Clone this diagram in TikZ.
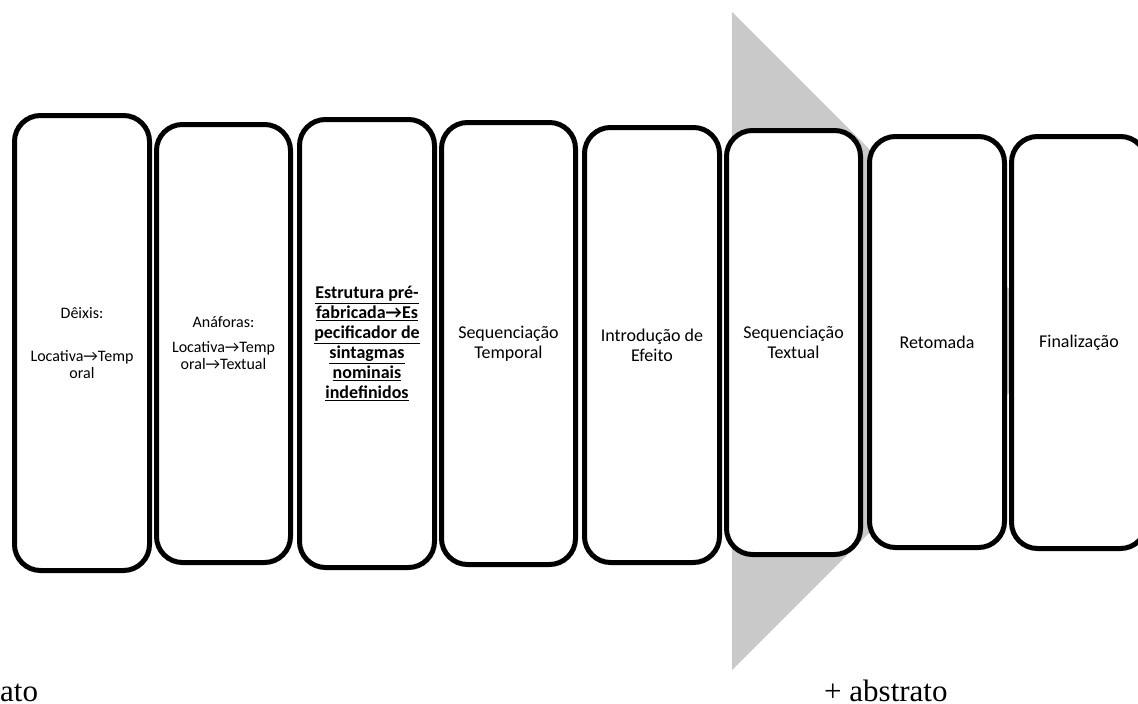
\documentclass[tikz,border=0pt]{standalone}
\usepackage{fontspec}
\setmainfont{Carlito}
\newfontfamily\timesfont{Liberation Serif}
\newcommand{\rarr}{→}
\definecolor{trigray}{RGB}{201,201,201}
\tikzset{
  stagebox/.style={draw=black, line width=5pt, rounded corners=26pt, fill=white,
    inner sep=0pt, align=center, font=\fontsize{18}{20}\selectfont},
  smalltext/.style={font=\fontsize{16}{17}\selectfont},
  boldtext/.style={font=\fontsize{18}{20}\selectfont\bfseries},
  endlabel/.style={inner sep=0pt, anchor=base west, font=\timesfont\fontsize{31}{31}\selectfont},
}
\begin{document}
\begin{tikzpicture}[x=1pt,y=-1pt]
\useasboundingbox (0,0) rectangle (1138,704);
\clip (0,0) rectangle (1138,704);
\coordinate (t1) at (732,12);
\coordinate (t2) at (1061,341);
\coordinate (t3) at (732,670);
\fill[trigray] (t1) -- (t2) -- (t3) -- cycle;

\node[stagebox, smalltext, minimum width=135pt, minimum height=455pt] (b1) at (82,343)
  {Dêixis:\\[26pt]Locativa\rarr Temp\\oral};
\node[stagebox, smalltext, minimum width=134pt, minimum height=438pt] (b2) at (223.5,343.5)
  {Anáforas:\\[8pt]Locativa\rarr Temp\\oral\rarr Textual};
\node[stagebox, boldtext, minimum width=135pt, minimum height=448pt] (b3) at (367,343.5)
  {\underline{Estrutura pré-}\\\underline{fabricada\rarr Es}\\\underline{pecificador de}\\\underline{sintagmas}\\\underline{nominais}\\\underline{indefinidos}};
\node[stagebox, minimum width=134pt, minimum height=442pt] (b4) at (508.5,343.5)
  {Sequenciação\\Temporal};
\node[stagebox, minimum width=135pt, minimum height=435pt] (b5) at (652,345)
  {Introdução de\\Efeito};
\node[stagebox, minimum width=134pt, minimum height=424pt] (b6) at (793.5,342.5)
  {Sequenciação\\Textual};
\node[stagebox, minimum width=135pt, minimum height=411pt] (b7) at (937,342)
  {Retomada};
\node[stagebox, minimum width=135pt, minimum height=412pt] (b8) at (1079,342.5)
  {Finalização};

\node[endlabel] (lo) at (0,701) {ato};
\node[endlabel] (hi) at (824,701) {+ abstrato};
\end{tikzpicture}
\end{document}
